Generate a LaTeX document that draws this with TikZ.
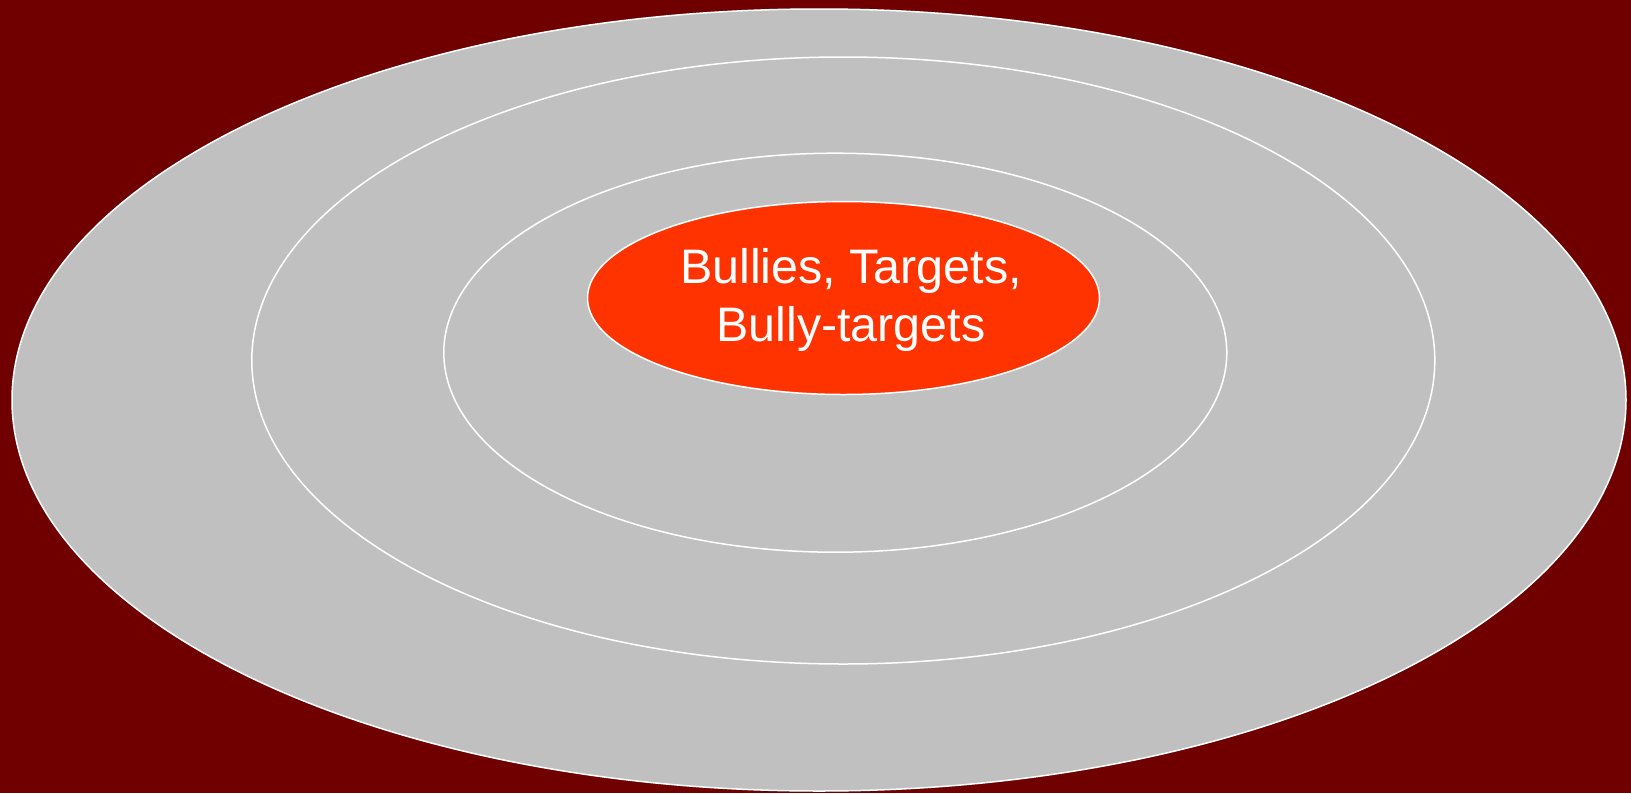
\documentclass[tikz,border=0pt]{standalone}
\usepackage{fontspec}
\setmainfont{Liberation Sans}
\usepackage{tikz}
\usetikzlibrary{shapes}
\definecolor{bgred}{RGB}{112,0,0}
\definecolor{ring}{RGB}{192,192,192}
\definecolor{core}{RGB}{255,51,0}

\begin{document}
\begin{tikzpicture}[x=1pt, y=-1pt,
  ringel/.style={ellipse, draw=white, line width=1.5pt, fill=ring, inner sep=0pt},
  coreel/.style={ellipse, draw=white, line width=1.5pt, fill=core, inner sep=0pt},
  lbl/.style={text=white, align=center, font=\fontsize{48.4}{58}\selectfont},
]
% Background
\fill[bgred] (0,0) rectangle (1631,793);
\useasboundingbox (0,0) rectangle (1631,793);

% Rings, outside in
\node[ringel, minimum width=1614pt, minimum height=782pt] (outer) at (819,400) {};
\node[ringel, minimum width=1183pt, minimum height=607pt] (middle) at (843.3,360.5) {};
\node[ringel, minimum width=783pt, minimum height=399pt] (inner) at (835.3,352.7) {};

% Core
\node[coreel, minimum width=512pt, minimum height=193pt] (core) at (843.5,298) {};
\node[lbl] (corelbl) at (851,299.5) {Bullies, Targets,\\Bully-targets};
\end{tikzpicture}
\end{document}
